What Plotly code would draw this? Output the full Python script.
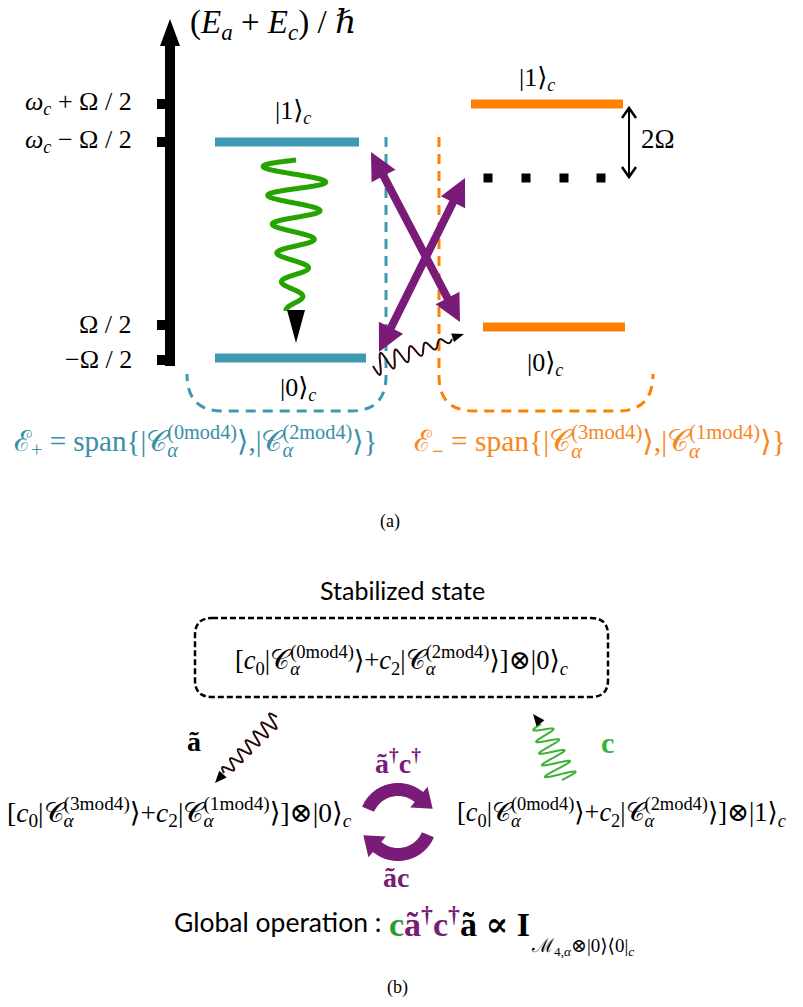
import numpy as np
import plotly.graph_objects as go

W, H = 803, 1007
SERIF = "Liberation Serif, DejaVu Serif, serif"
SANS = "Lato, Open Sans, sans-serif"

TEAL = "#3d9ab0"
TEAL_TXT = "#3a8ea6"
ORANGE = "#ff8000"
ORANGE_TXT = "#f7861d"
PURPLE = "#7a1b78"
GREEN_A = "#25a300"
GREEN_B = "#3cb337"
GREEN_TXT = "#2f9a2f"
BROWN = "#2b0a0a"

# ---------------- panel (a): energy diagram ----------------
axis_title = "(<i>E</i><sub><i>a</i></sub> + <i>E</i><sub><i>c</i></sub>) / ℏ"
tick_labels = ["<i>ω</i><sub><i>c</i></sub> + Ω / 2", "<i>ω</i><sub><i>c</i></sub> − Ω / 2", "Ω / 2", "−Ω / 2"]
tick_y = [104, 142, 325, 360]

level_names = ["|0⟩<sub><i>c</i></sub>", "|1⟩<sub><i>c</i></sub>"]
plus_level_y = [358, 142]      # E+ manifold: |0>_c, |1>_c
minus_level_y = [327, 104]     # E- manifold: |0>_c, |1>_c
virtual_level_y = 178          # dotted level of the E- manifold
splitting_label = "2Ω"

plus_span = "ℰ<sub>+</sub> = span{|𝒞{A}<sup>(0mod4)</sup>⟩,|𝒞{A}<sup>(2mod4)</sup>⟩}"
minus_span = "ℰ<sub>−</sub> = span{|𝒞{A}<sup>(3mod4)</sup>⟩,|𝒞{A}<sup>(1mod4)</sup>⟩}"

# ---------------- panel (b): stabilisation cycle ----------------
stabilized_title = "Stabilized state"
state_stable = "[<i>c</i><sub>0</sub>|𝒞{A}<sup>(0mod4)</sup>⟩+<i>c</i><sub>2</sub>|𝒞{A}<sup>(2mod4)</sup>⟩]⊗|0⟩<sub><i>c</i></sub>"
state_left = "[<i>c</i><sub>0</sub>|𝒞{A}<sup>(3mod4)</sup>⟩+<i>c</i><sub>2</sub>|𝒞{A}<sup>(1mod4)</sup>⟩]⊗|0⟩<sub><i>c</i></sub>"
state_right = "[<i>c</i><sub>0</sub>|𝒞{A}<sup>(0mod4)</sup>⟩+<i>c</i><sub>2</sub>|𝒞{A}<sup>(2mod4)</sup>⟩]⊗|1⟩<sub><i>c</i></sub>"
op_up = "ã<sup>†</sup>c<sup>†</sup>"
op_down = "ãc"
op_loss_a = "ã"
op_loss_c = "c"
global_label = "Global operation :"
global_sub = "ℳ<sub>4,<i>α</i></sub>⊗|0⟩⟨0|<sub><i>c</i></sub>"

fig = go.Figure()
shapes = []
annotations = []


def poly_path(pts):
    return "M " + " L ".join(f"{x:.2f},{y:.2f}" for x, y in pts) + " Z"


def line_path(pts):
    return "M " + " L ".join(f"{x:.2f},{y:.2f}" for x, y in pts)


def add_poly(pts, color, layer="above"):
    shapes.append(dict(type="path", path=poly_path(pts), fillcolor=color,
                       line=dict(width=0), xref="x", yref="y", layer=layer))


def thick_arrow(p0, p1, shaft, head_len, head_w, start_head=True, end_head=True):
    p0 = np.array(p0, float)
    p1 = np.array(p1, float)
    u = (p1 - p0) / np.linalg.norm(p1 - p0)
    n = np.array([-u[1], u[0]])
    b0 = p0 + u * head_len if start_head else p0
    b1 = p1 - u * head_len if end_head else p1
    pts = []
    if start_head:
        pts += [p0, b0 + n * head_w / 2]
    pts += [b0 + n * shaft / 2, b1 + n * shaft / 2]
    if end_head:
        pts += [b1 + n * head_w / 2, p1, b1 - n * head_w / 2]
    pts += [b1 - n * shaft / 2, b0 - n * shaft / 2]
    if start_head:
        pts += [b0 - n * head_w / 2]
    return pts


def wave(p0, p1, periods, amp0, amp1, phase=0.0, npts=400):
    p0 = np.array(p0, float)
    p1 = np.array(p1, float)
    d = p1 - p0
    u = d / np.linalg.norm(d)
    n = np.array([-u[1], u[0]])
    t = np.linspace(0, 1, npts)
    amp = amp0 + (amp1 - amp0) * t
    off = amp * np.sin(2 * np.pi * periods * t + phase)
    return [tuple(p0 + d * ti + n * oi) for ti, oi in zip(t, off)]


def head_tri(tip, direction, length, width):
    tip = np.array(tip, float)
    u = np.array(direction, float)
    u = u / np.linalg.norm(u)
    n = np.array([-u[1], u[0]])
    b = tip - u * length
    return [tip, b + n * width / 2, b - n * width / 2]


def arc_arrow(cx, cy, r_in, r_out, th0, th1, head_len, head_extra):
    th = np.radians(np.linspace(th0, th1, 60))
    outer = [(cx + r_out * np.cos(a), cy - r_out * np.sin(a)) for a in th]
    inner = [(cx + r_in * np.cos(a), cy - r_in * np.sin(a)) for a in th[::-1]]
    a1 = th[-1]
    sgn = np.sign(th1 - th0)
    rm = (r_in + r_out) / 2
    mid = np.array([cx + rm * np.cos(a1), cy - rm * np.sin(a1)])
    tan = sgn * np.array([-np.sin(a1), -np.cos(a1)])
    tip = mid + tan * head_len
    ob = (cx + (r_out + head_extra) * np.cos(a1), cy - (r_out + head_extra) * np.sin(a1))
    ib = (cx + (r_in - head_extra) * np.cos(a1), cy - (r_in - head_extra) * np.sin(a1))
    return outer + [ob, tuple(tip), ib] + inner


def text(x, y, s, size, color="black", family=SERIF, xanchor="center", yanchor="middle"):
    annotations.append(dict(x=x, y=y, xref="x", yref="y", text=s, showarrow=False,
                            xanchor=xanchor, yanchor=yanchor,
                            font=dict(family=family, size=size, color=color)))


def formula(x, y, s, size, color):
    """Formula with stacked sub/superscripts: each α subscript is laid on a
    transparent copy of the text so that it sits under its superscript."""
    n_alpha = s.count("{A}")
    text(x, y, s.replace("{A}", ""), size, color, xanchor="left")
    parts = s.split("{A}")
    for i in range(n_alpha):
        out = ""
        for j, p in enumerate(parts):
            out += p
            if j == i:
                out += (f"<sub><span style='color:{color};fill-opacity:1'>"
                        f"<i>α</i></span></sub>")
        text(x, y, out, size, "rgba(255,255,255,0)", xanchor="left")


# ---- energy axis ----
add_poly(thick_arrow((170, 366), (170, 19), 10, 27, 20, start_head=False), "black")
for ty, lab in zip(tick_y, tick_labels):
    shapes.append(dict(type="rect", x0=157, x1=170, y0=ty - 5, y1=ty + 5,
                       fillcolor="black", line=dict(width=0), xref="x", yref="y"))
    text(134, ty - 1, lab, 26, xanchor="right")
text(188, 24, axis_title, 33, xanchor="left")

# ---- manifold boundaries (dashed) ----
shapes.append(dict(type="path", xref="x", yref="y",
                   path="M 386,137 L 386,376 Q 386,411 351,411 L 222,411 Q 187,411 187,374",
                   line=dict(color=TEAL, width=3, dash="10px,7px")))
shapes.append(dict(type="path", xref="x", yref="y",
                   path="M 439,137 L 439,376 Q 439,411 474,411 L 618,411 Q 653,411 653,374",
                   line=dict(color=ORANGE, width=3, dash="10px,7px")))

# ---- energy levels ----
plus_x = [(215, 366), (215, 359)]
minus_x = [(483, 625), (471, 623)]
for (x0, x1), ly in zip(plus_x, plus_level_y):
    shapes.append(dict(type="rect", x0=x0, x1=x1, y0=ly - 4.5, y1=ly + 4.5,
                       fillcolor=TEAL, line=dict(width=0), xref="x", yref="y"))
for (x0, x1), ly in zip(minus_x, minus_level_y):
    shapes.append(dict(type="rect", x0=x0, x1=x1, y0=ly - 4.5, y1=ly + 4.5,
                       fillcolor=ORANGE, line=dict(width=0), xref="x", yref="y"))

fig.add_trace(go.Scatter(x=[488, 526, 564, 601], y=[virtual_level_y] * 4, mode="markers",
                         marker=dict(symbol="square", size=9, color="black"),
                         hoverinfo="skip"))

text(293, plus_level_y[1] - 30, level_names[1], 26)
text(298, plus_level_y[0] + 31, level_names[0], 26)
text(537, minus_level_y[1] - 25, level_names[1], 26)
text(545, minus_level_y[0] + 37, level_names[0], 26)

# 2Ω splitting marker
shapes.append(dict(type="path", xref="x", yref="y",
                   path=f"M 629,{minus_level_y[1] + 5} L 629,{virtual_level_y - 2}",
                   line=dict(color="black", width=2)))
shapes.append(dict(type="path", xref="x", yref="y",
                   path=f"M 622,{minus_level_y[1] + 14} L 629,{minus_level_y[1] + 4} L 636,{minus_level_y[1] + 14}",
                   line=dict(color="black", width=2.5)))
shapes.append(dict(type="path", xref="x", yref="y",
                   path=f"M 622,{virtual_level_y - 11} L 629,{virtual_level_y - 1} L 636,{virtual_level_y - 11}",
                   line=dict(color="black", width=2.5)))
text(658, 139, splitting_label, 27)

# ---- green decay photon ----
g = wave((296, 160), (293, 311), 5.25, 34, 7)
shapes.append(dict(type="path", xref="x", yref="y", path=line_path(g),
                   line=dict(color=GREEN_A, width=5)))
add_poly([(296, 343), (287, 310), (305, 310)], "black")

# ---- purple pumping arrows ----
add_poly(thick_arrow((371, 152), (460, 322), 8, 27, 27), PURPLE)
add_poly(thick_arrow((379, 352), (465, 178), 8, 27, 27), PURPLE)

# ---- dark loss photon ----
b = wave((373, 366), (452, 339), 5.5, 11, 2.5)
shapes.append(dict(type="path", xref="x", yref="y", path=line_path(b),
                   line=dict(color=BROWN, width=2)))
add_poly(head_tri((464, 334), (12, -4), 12, 9), "black")

# ---- manifold labels ----
formula(12, 441, plus_span, 29, TEAL_TXT)
formula(412, 441, minus_span, 29.5, ORANGE_TXT)
text(390, 521, "(a)", 18)

# ---------------- panel (b) ----------------
text(402, 590, stabilized_title, 25, family=SANS)
shapes.append(dict(type="path", xref="x", yref="y",
                   path=("M 212,618 L 591,618 Q 608,618 608,635 L 608,680 Q 608,697 591,697 "
                         "L 212,697 Q 195,697 195,680 L 195,635 Q 195,618 212,618 Z"),
                   line=dict(color="black", width=2.5, dash="6px,3px")))
formula(233, 660, state_stable, 26.5, "black")
formula(5, 812, state_left, 27.5, "black")
formula(455, 812, state_right, 26.3, "black")

# loss photons toward / from the stable state
bl = wave((277, 717), (224, 773), 6.5, 8, 5)
shapes.append(dict(type="path", xref="x", yref="y", path=line_path(bl),
                   line=dict(color=BROWN, width=2)))
add_poly(head_tri((215, 783), (-9, 10), 12, 10), "black")
text(194, 741, "<b>" + op_loss_a + "</b>", 28)

gl = wave((562, 780), (541, 724), 5, 16, 9)
shapes.append(dict(type="path", xref="x", yref="y", path=line_path(gl),
                   line=dict(color=GREEN_B, width=2)))
add_poly(head_tri((533, 714), (-8, -10), 12, 10), "black")
text(607, 742, "<b>" + op_loss_c + "</b>", 30, GREEN_B)

# circular exchange arrows
add_poly(arc_arrow(398, 822, 26, 39, 157, 50, 18, 7), PURPLE)
add_poly(arc_arrow(398, 822, 26, 39, -23, -130, 18, 7), PURPLE)
text(398, 761, "<b>" + op_up + "</b>", 28, PURPLE)
text(396, 877, "<b>" + op_down + "</b>", 28, PURPLE)

# global operation
text(383, 922, global_label, 26.5, family=SANS, xanchor="right")
text(387, 922, (f"<b><span style='color:{GREEN_TXT}'>c</span>"
                f"<span style='color:{PURPLE}'>ã<sup>†</sup>c<sup>†</sup></span>ã ∝ I</b>"),
     34, xanchor="left")
text(529, 947, global_sub, 19, xanchor="left")
text(397, 987, "(b)", 18)

fig.update_layout(
    width=W, height=H,
    margin=dict(l=0, r=0, t=0, b=0),
    paper_bgcolor="white", plot_bgcolor="white",
    showlegend=False,
    xaxis=dict(range=[0, W], visible=False, fixedrange=True),
    yaxis=dict(range=[H, 0], visible=False, fixedrange=True),
    shapes=shapes, annotations=annotations,
    font=dict(family=SERIF, color="black"),
)
fig.write_html("out.html")
